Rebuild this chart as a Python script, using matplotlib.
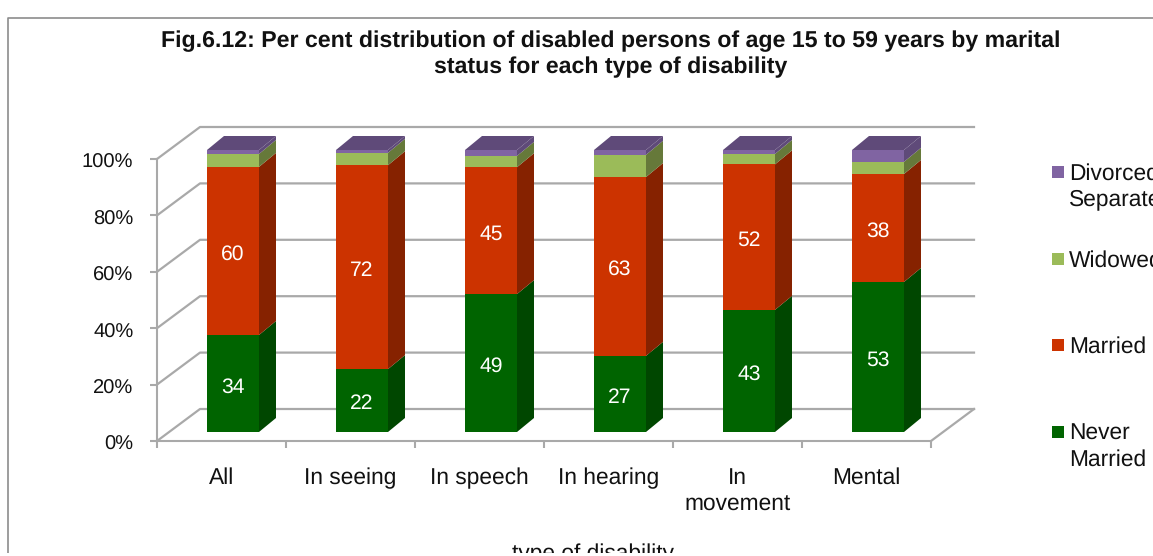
import matplotlib
matplotlib.use("Agg")
import matplotlib.pyplot as plt
from matplotlib.patches import Polygon, Rectangle
from matplotlib.transforms import ScaledTranslation

plt.rcParams['font.family'] = ['Liberation Sans', 'DejaVu Sans']
plt.rcParams['text.hinting'] = 'no_hinting'

categories = ["All", "In seeing", "In speech", "In hearing", "In\nmovement", "Mental"]
never_married = [34.4, 22.3, 48.9, 27.0, 43.3, 53.2]
married = [59.6, 72.3, 45.0, 63.4, 51.6, 38.3]
widowed = [4.6, 4.4, 4.0, 7.9, 3.7, 4.3]
divorced = [1.4, 1.0, 2.1, 1.7, 1.4, 4.2]
series_names = ["Never\nMarried", "Married", "Widowed", "Divorced/\nSeparated"]
xlabel = "type of disability"
title = ("Fig.6.12: Per cent distribution of disabled persons of age 15 to 59 years by marital\n"
         "status for each type of disability")

W, H = 1153, 556
front = ["#006400", "#CC3300", "#9BBB59", "#8064A2"]
side = ["#004700", "#862200", "#66793A", "#5F4A79"]
top = "#5F4A79"
grid = "#A9A9A9"
label_fs = 16.4

fig = plt.figure(figsize=(W / 100, H / 100), dpi=100)
fig.patch.set_facecolor("white")
L, R, T, B = 157, 931, 159, 441
ax = fig.add_axes([L / W, 1 - B / H, (R - L) / W, (B - T) / H])
ax.set_xlim(0, 6)
ax.set_ylim(0, 100)
ax.patch.set_visible(False)
for s in ax.spines.values():
    s.set_visible(False)
ax.spines['left'].set_visible(True)
ax.spines['bottom'].set_visible(True)
ax.spines['left'].set_color(grid)
ax.spines['bottom'].set_color(grid)
ax.spines['left'].set_linewidth(1.5)
ax.spines['bottom'].set_linewidth(1.5)

# depth of the 3-D box in data units
wall_dx, wall_dy = 43 / 129, 32 / 2.82
ax.set_yticks(range(0, 101, 20))
ax.set_yticklabels([f"{v}%" for v in range(0, 101, 20)], fontsize=14.5, color="#111111")
ax.set_xticks(range(7))
ax.set_xticklabels([""] * 7)
ax.tick_params(axis='both', color=grid, width=1.5, length=5, pad=12)
for lab in ax.get_yticklabels():
    lab.set_transform(lab.get_transform() + ScaledTranslation(0, -2 / 100, fig.dpi_scale_trans))
for i, c in enumerate(categories):
    ax.text(i + 0.5, -9.4, c, ha="center", va="top", fontsize=label_fs, color="#111111", linespacing=1.3)

for v in range(0, 101, 20):
    ax.plot([0, wall_dx, 6 + wall_dx], [v, v + wall_dy, v + wall_dy], color=grid, lw=1.6,
            clip_on=False, zorder=1, solid_joinstyle="round")
ax.plot([6, 6 + wall_dx], [0, wall_dy], color=grid, lw=1.6, clip_on=False, zorder=1)

# bars
bar_left, bar_w = 50 / 129, 52 / 129
bar_dy0 = 9 / 2.82
sdx, sdy = 17 / 129, 14 / 2.82
series = [never_married, married, widowed, divorced]
cum = [0.0] * 6
for k, vals in enumerate(series):
    xs = [i + bar_left for i in range(6)]
    ax.bar(xs, vals, width=bar_w, bottom=[c + bar_dy0 for c in cum], align="edge",
           color=front[k], zorder=3, clip_on=False, linewidth=0)
    for i, v in enumerate(vals):
        x1 = xs[i] + bar_w
        y0 = cum[i] + bar_dy0
        ax.add_patch(Polygon([(x1, y0), (x1 + sdx, y0 + sdy), (x1 + sdx, y0 + v + sdy), (x1, y0 + v)],
                             closed=True, facecolor=side[k], edgecolor="none", zorder=3, clip_on=False))
        if k < 2:
            ax.text(xs[i] + bar_w / 2, y0 + v / 2 - 1.2, f"{v:.0f}", ha="center", va="center",
                    color="white", fontsize=15.2, zorder=5)
        if k == 3:
            yt = y0 + v
            x0 = xs[i]
            ax.add_patch(Polygon([(x0, yt), (x1, yt), (x1 + sdx, yt + sdy), (x0 + sdx, yt + sdy)],
                                 closed=True, facecolor=top, edgecolor="none", zorder=3, clip_on=False))
    cum = [c + v for c, v in zip(cum, vals)]

# pixel-positioned overlay: frame, title, axis title, legend
ov = fig.add_axes([0, 0, 1, 1])
ov.set_xlim(0, W)
ov.set_ylim(H, 0)
ov.axis("off")
ov.patch.set_visible(False)
ov.plot([7.5, 7.5, W], [553, 17.5, 17.5], color="#8C8C8C", lw=1.2, zorder=1)
ov.text(611, 54.5, title, ha="center", va="center", fontsize=16.7, fontweight="bold",
        color="#111111", linespacing=1.28)
ov.text(593, 554, xlabel, ha="center", va="center", fontsize=label_fs, color="#111111")
legend_y = [432, 345, 259, 172]
for name, col, y in zip(series_names, front, legend_y):
    ov.add_patch(Rectangle((1052, y - 6), 12, 12, facecolor=col, edgecolor="none"))
    ov.text(1069, y - 9, name, ha="left", va="top", fontsize=label_fs, color="#111111", linespacing=1.3)
ov.add_patch(Rectangle((0, 553), W, 3, facecolor="white", edgecolor="none", zorder=10))

fig.savefig("out.png", dpi=100)
